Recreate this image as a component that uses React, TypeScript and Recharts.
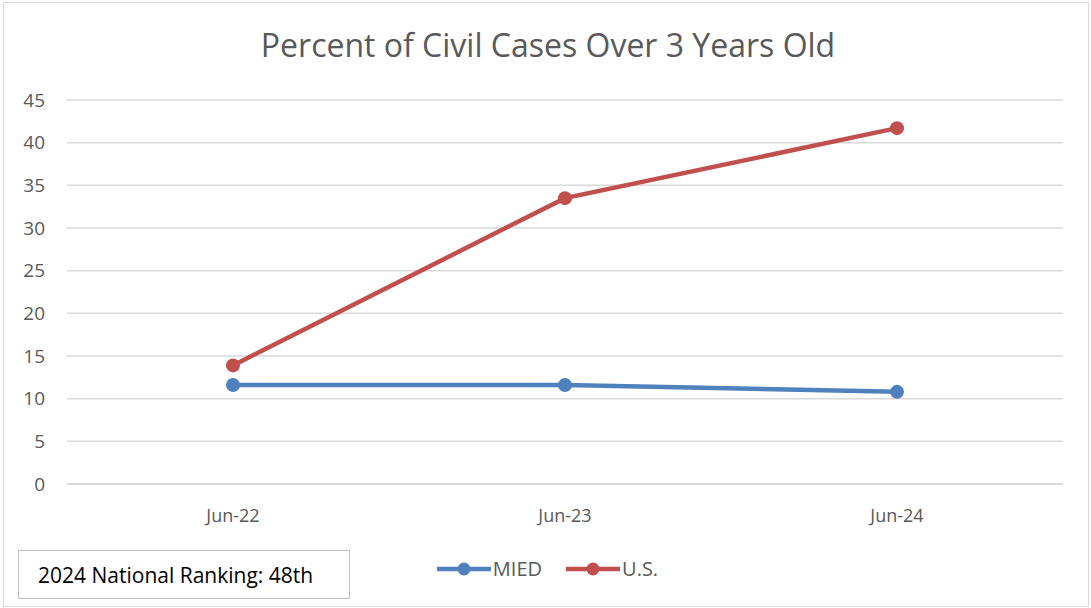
import * as React from 'react';
import { LineChart, Line, XAxis, YAxis, CartesianGrid, Legend } from 'recharts';

const periods = ['Jun-22', 'Jun-23', 'Jun-24'];
const miedValues = [11.6, 11.6, 10.8];
const usValues = [13.9, 33.5, 41.7];
const yTicks = [0, 5, 10, 15, 20, 25, 30, 35, 40, 45];

const BLUE = '#4f81bd';
const RED = '#c0504d';
const FONT = '"Open Sans", Calibri, sans-serif';

const data = periods.map((p, i) => ({ period: p, mied: miedValues[i], us: usValues[i] }));

function LegendContent() {
  const items = [
    { name: 'MIED', color: BLUE },
    { name: 'U.S.', color: RED }
  ];
  return (
    <div style={{ display: 'flex', justifyContent: 'center', gap: 24, fontFamily: FONT, fontSize: 20, color: '#595959' }}>
      {items.map((it) => (
        <div key={it.name} style={{ display: 'flex', alignItems: 'center' }}>
          <svg width={54} height={16}>
            <line x1={0} y1={8} x2={54} y2={8} stroke={it.color} strokeWidth={4.5} />
            <circle cx={27} cy={8} r={6.5} fill={it.color} />
          </svg>
          <span style={{ marginLeft: 2 }}>{it.name}</span>
        </div>
      ))}
    </div>
  );
}

export default function App() {
  return (
    <div style={{ position: 'absolute', left: 0, top: 0, width: 1091, height: 608, background: '#fff' }}>
      <div
        style={{
          position: 'absolute',
          left: 3,
          top: 2,
          width: 1084,
          height: 603,
          border: '1px solid #d9d9d9'
        }}
      />
      <div
        style={{
          position: 'absolute',
          left: 0,
          top: 23,
          width: 1096,
          textAlign: 'center',
          fontFamily: FONT,
          fontSize: 32,
          color: '#595959'
        }}
      >
        Percent of Civil Cases Over 3 Years Old
      </div>
      <LineChart width={1091} height={608} data={data} margin={{ top: 100, right: 28, bottom: 67, left: 0 }}>
        <CartesianGrid vertical={false} stroke="#d9d9d9" strokeWidth={1.5} />
        <XAxis
          dataKey="period"
          height={30}
          padding={{ left: 166, right: 166 }}
          axisLine={{ stroke: '#d9d9d9', strokeWidth: 1.5 }}
          tickLine={false}
          tickSize={6}
          tickMargin={19}
          tick={{ fill: '#595959', fontSize: 18, fontFamily: FONT }}
        />
        <YAxis
          width={67}
          domain={[0, 45]}
          ticks={yTicks}
          axisLine={false}
          tickLine={false}
          tickSize={6}
          tickMargin={16}
          tick={{ fill: '#595959', fontSize: 19, fontFamily: FONT }}
        />
        <Legend
          verticalAlign="bottom"
          content={<LegendContent />}
          wrapperStyle={{ top: 555, left: 2, width: 1091 }}
        />
        <Line
          type="linear"
          dataKey="mied"
          name="MIED"
          stroke={BLUE}
          strokeWidth={4.5}
          dot={{ r: 7, fill: BLUE, stroke: BLUE, strokeWidth: 0 }}
          activeDot={false}
          isAnimationActive={false}
        />
        <Line
          type="linear"
          dataKey="us"
          name="U.S."
          stroke={RED}
          strokeWidth={4.5}
          dot={{ r: 7, fill: RED, stroke: RED, strokeWidth: 0 }}
          activeDot={false}
          isAnimationActive={false}
        />
      </LineChart>
      <div
        style={{
          position: 'absolute',
          left: 18,
          top: 550,
          width: 332,
          height: 49,
          border: '1px solid #bfbfbf',
          boxSizing: 'border-box',
          background: '#fff',
          display: 'flex',
          alignItems: 'center',
          paddingLeft: 19,
          fontFamily: FONT,
          fontSize: 21,
          color: '#000'
        }}
      >
        2024 National Ranking: 48th
      </div>
    </div>
  );
}
